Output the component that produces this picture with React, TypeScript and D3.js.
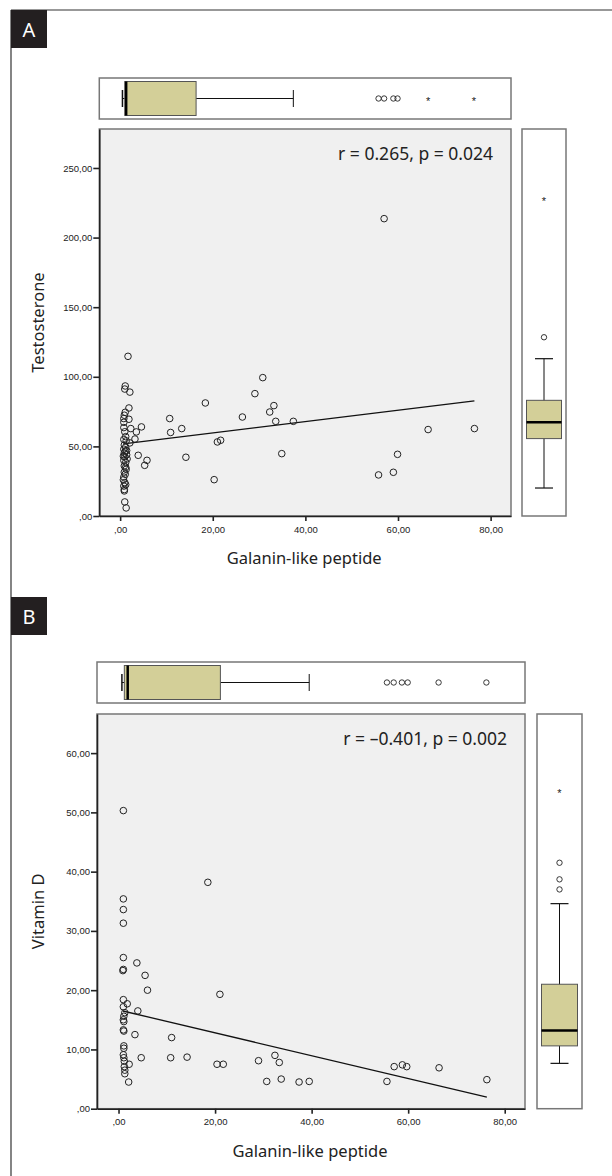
import React, { useEffect, useRef } from "react";
import * as d3 from "d3";

const xTicks = [0, 20, 40, 60, 80];
const testoTicks = [0, 50, 100, 150, 200, 250];
const vitdTicks = [0, 10, 20, 30, 40, 50, 60];

// Galanin-like peptide vs Testosterone
const pointsA = [
  [1.7, 114.7], [1.1, 93.4], [1.0, 91.2], [2.1, 89.0],
  [1.9, 77.6], [1.1, 74.5], [0.9, 72.4], [1.9, 69.5], [0.8, 70.0], [0.8, 67.3],
  [2.3, 62.8], [0.8, 63.5], [3.5, 60.4], [4.6, 64.0], [3.2, 55.3],
  [0.8, 55.0], [1.3, 54.0], [2.1, 52.5], [0.9, 51.0], [1.2, 49.5], [0.8, 48.0],
  [1.1, 46.5], [0.9, 45.2], [1.4, 44.0], [1.0, 42.5], [1.5, 41.0], [0.8, 40.0],
  [1.2, 38.5], [0.9, 36.0], [1.3, 33.5], [0.9, 31.5], [1.1, 30.0], [0.8, 28.0],
  [1.0, 24.0], [0.8, 21.5], [0.9, 19.0], [1.0, 10.1], [1.3, 5.8],
  [1.2, 57.0], [1.0, 60.5], [1.4, 47.0], [0.7, 43.0], [1.2, 35.0], [0.7, 26.0],
  [1.2, 22.5], [0.9, 18.0],
  [3.9, 43.6], [5.3, 36.4], [5.8, 40.0],
  [10.7, 70.0], [10.9, 60.0], [13.3, 62.8], [14.2, 42.2], [18.4, 81.2],
  [20.3, 26.1], [21.0, 53.2], [21.7, 54.4], [26.4, 71.1], [29.1, 87.9],
  [30.8, 99.4], [32.3, 74.7], [33.2, 79.3], [33.6, 68.0], [34.9, 44.8],
  [37.4, 68.0], [55.8, 29.5], [57.0, 213.6], [59.0, 31.4], [59.9, 44.3],
  [66.5, 62.1], [76.5, 62.8],
];

// Galanin-like peptide vs Vitamin D
const pointsB = [
  [1.0, 50.3], [1.0, 35.4], [1.0, 33.6], [1.0, 31.3], [1.0, 25.5],
  [1.0, 23.5], [0.9, 23.3], [1.0, 18.4], [1.0, 17.2], [1.3, 16.2],
  [1.1, 15.6], [1.0, 15.0], [1.1, 14.7], [1.0, 13.3], [1.1, 13.1],
  [1.1, 10.6], [1.1, 10.2], [1.0, 9.1], [1.1, 8.6], [1.2, 8.0],
  [1.2, 7.1], [1.3, 6.5], [1.3, 5.9],
  [1.8, 17.7], [4.0, 16.5], [3.8, 24.6], [5.5, 22.5], [6.0, 20.0],
  [3.4, 12.5], [4.7, 8.6], [2.2, 7.5], [2.1, 4.5],
  [18.5, 38.2], [21.0, 19.3], [11.0, 12.0], [10.8, 8.6], [14.2, 8.7],
  [20.4, 7.5], [21.7, 7.5], [29.0, 8.1], [32.4, 9.0], [33.3, 7.8],
  [30.7, 4.6], [33.7, 5.0], [37.4, 4.5], [39.5, 4.6], [55.6, 4.6],
  [57.1, 7.1], [58.8, 7.4], [59.7, 7.1], [66.4, 6.9], [76.3, 4.9],
];

const fitA = { intercept: 51.5, slope: 0.407 };
const fitB = { intercept: 16.66, slope: -0.193 };

// box stats: [min, q1, median, q3, max]
const galBoxA = [0.5, 1.0, 1.3, 16.4, 37.4];
const galOutA = [55.8, 57.0, 59.0, 59.9];
const galExtA = [66.5, 76.4];
const testoBox = [20.1, 55.6, 67.3, 83.1, 113];
const testoOut = [128.4];
const testoExt = [227.5];

const galBoxB = [0.7, 1.2, 1.9, 21.1, 39.5];
const galOutB = [55.6, 57.0, 58.7, 59.9, 66.3, 76.2];
const galExtB: number[] = [];
const vitdBox = [7.65, 10.6, 13.2, 21.0, 34.6];
const vitdOut = [37.0, 38.7, 41.5];
const vitdExt = [53.6];

const panels = [
  {
    letter: "A", letterTop: 10,
    topBox: 78, plotTop: 129, plotBottom: 516, left: 99.3, right: 511,
    sideLeft: 522, sideRight: 566,
    xDomain: [-4.5, 84.4], yDomain: [0, 278], yTicks: testoTicks,
    points: pointsA, fit: fitA, yLabel: "Testosterone",
    stat: "r = 0.265, p = 0.024",
    galBox: galBoxA, galOut: galOutA, galExt: galExtA,
    yBox: testoBox, yOut: testoOut, yExt: testoExt,
  },
  {
    letter: "B", letterTop: 597,
    topBox: 662, plotTop: 714, plotBottom: 1108.7, left: 97, right: 525,
    sideLeft: 537, sideRight: 582,
    xDomain: [-4.46, 84.2], yDomain: [0, 66.6], yTicks: vitdTicks,
    points: pointsB, fit: fitB, yLabel: "Vitamin D",
    stat: "r = \u20130.401, p = 0.002",
    galBox: galBoxB, galOut: galOutB, galExt: galExtB,
    yBox: vitdBox, yOut: vitdOut, yExt: vitdExt,
  },
];

const fmt = (v: number) => d3.format(".2f")(v).replace(".", ",").replace(/^0,/, ",");
const BOX_FILL = "#d3cf98";

const App = () => {
  const ref = useRef<SVGSVGElement>(null);

  useEffect(() => {
    const svg = d3.select(ref.current);
    svg.selectAll("*").remove();

    // outer frame
    svg.append("line").attr("x1", 11).attr("x2", 11).attr("y1", 10).attr("y2", 1176)
      .attr("stroke", "#333").attr("stroke-width", 1.2);
    svg.append("line").attr("x1", 11).attr("x2", 612).attr("y1", 10).attr("y2", 10)
      .attr("stroke", "#333").attr("stroke-width", 1.2);

    panels.forEach((p) => {
      const g = svg.append("g");

      g.append("rect").attr("x", 11).attr("y", p.letterTop).attr("width", 36).attr("height", 38)
        .attr("fill", "#231f20");
      g.append("text").attr("x", 29).attr("y", p.letterTop + 27).attr("text-anchor", "middle")
        .attr("fill", "#fff").attr("font-family", "Noto Sans").attr("font-size", 20).text(p.letter);

      const x = d3.scaleLinear().domain(p.xDomain).range([p.left, p.right]);
      const y = d3.scaleLinear().domain(p.yDomain).range([p.plotBottom, p.plotTop]);

      // scatter area
      g.append("rect").attr("x", p.left).attr("y", p.plotTop)
        .attr("width", p.right - p.left).attr("height", p.plotBottom - p.plotTop)
        .attr("fill", "#f0f0f0").attr("stroke", "#777").attr("stroke-width", 1.5);

      const yAxis = g.append("g").attr("transform", `translate(${p.left},0)`)
        .call(d3.axisLeft(y).tickValues(p.yTicks).tickFormat(fmt).tickSize(6).tickSizeOuter(0).tickPadding(1));
      const xAxis = g.append("g").attr("transform", `translate(0,${p.plotBottom})`)
        .call(d3.axisBottom(x).tickValues(xTicks).tickFormat(fmt).tickSize(5).tickSizeOuter(0).tickPadding(5));
      [yAxis, xAxis].forEach((ax) => {
        ax.select(".domain").attr("stroke", "#222").attr("stroke-width", 1.6);
        ax.selectAll(".tick line").attr("stroke", "#222").attr("stroke-width", 1.6);
        ax.selectAll(".tick text").attr("font-family", "Liberation Sans").attr("font-size", 9.5).attr("fill", "#222");
      });

      // fit line
      const xs = p.points.map((d) => d[0]);
      const xr = [d3.min(xs) as number, d3.max(xs) as number];
      g.append("path")
        .attr("d", d3.line()(xr.map((v) => [x(v), y(p.fit.intercept + p.fit.slope * v)])))
        .attr("stroke", "#111").attr("stroke-width", 1.3).attr("fill", "none");

      g.append("g").selectAll("circle").data(p.points).enter().append("circle")
        .attr("cx", (d) => x(d[0])).attr("cy", (d) => y(d[1])).attr("r", 3.3)
        .attr("fill", "none").attr("stroke", "#222").attr("stroke-width", 1);

      g.append("text").attr("x", p.right - 18).attr("y", p.plotTop + 31).attr("text-anchor", "end")
        .attr("font-family", "Noto Sans").attr("font-size", 17.5).attr("fill", "#222").text(p.stat);

      // axis titles
      g.append("text").attr("x", (p.left + p.right) / 2 - 1).attr("y", p.plotBottom + 48)
        .attr("text-anchor", "middle").attr("font-family", "Noto Sans").attr("font-size", 16.5)
        .attr("fill", "#222").text("Galanin-like peptide");
      g.append("text")
        .attr("transform", `translate(44,${(p.plotTop + p.plotBottom) / 2}) rotate(-90)`)
        .attr("text-anchor", "middle").attr("font-family", "Noto Sans").attr("font-size", 16.5)
        .attr("fill", "#222").text(p.yLabel);

      // top boxplot (horizontal, galanin)
      const tb = g.append("g");
      const th = 41;
      const cy = p.topBox + th / 2;
      tb.append("rect").attr("x", p.left).attr("y", p.topBox).attr("width", p.right - p.left).attr("height", th)
        .attr("fill", "#fff").attr("stroke", "#777").attr("stroke-width", 1.5);
      const [gmin, gq1, gmed, gq3, gmax] = p.galBox;
      tb.append("line").attr("x1", x(gq3)).attr("x2", x(gmax)).attr("y1", cy).attr("y2", cy).attr("stroke", "#111");
      tb.append("line").attr("x1", x(gmax)).attr("x2", x(gmax)).attr("y1", cy - 8.5).attr("y2", cy + 8.5).attr("stroke", "#111");
      tb.append("line").attr("x1", x(gmin)).attr("x2", x(gq1)).attr("y1", cy).attr("y2", cy).attr("stroke", "#111");
      tb.append("line").attr("x1", x(gmin)).attr("x2", x(gmin)).attr("y1", cy - 8.5).attr("y2", cy + 8.5).attr("stroke", "#111").attr("stroke-width", 1.5);
      tb.append("rect").attr("x", x(gq1)).attr("y", p.topBox + 3.5).attr("width", x(gq3) - x(gq1)).attr("height", th - 7)
        .attr("fill", BOX_FILL).attr("stroke", "#555").attr("stroke-width", 1);
      tb.append("line").attr("x1", x(gmed)).attr("x2", x(gmed)).attr("y1", p.topBox + 3.5).attr("y2", p.topBox + th - 3.5)
        .attr("stroke", "#000").attr("stroke-width", 2.5);
      tb.selectAll(".out").data(p.galOut).enter().append("circle")
        .attr("cx", (d) => x(d)).attr("cy", cy).attr("r", 2.7).attr("fill", "none").attr("stroke", "#222").attr("stroke-width", 0.9);
      tb.selectAll(".ext").data(p.galExt).enter().append("text")
        .attr("x", (d) => x(d)).attr("y", cy + 6).attr("text-anchor", "middle")
        .attr("font-family", "Liberation Sans").attr("font-size", 11).attr("fill", "#222").text("*");

      // side boxplot (vertical, y variable)
      const sb = g.append("g");
      const cx = (p.sideLeft + p.sideRight) / 2;
      sb.append("rect").attr("x", p.sideLeft).attr("y", p.plotTop).attr("width", p.sideRight - p.sideLeft)
        .attr("height", p.plotBottom - p.plotTop).attr("fill", "#fff").attr("stroke", "#777").attr("stroke-width", 1.5);
      const [ymin, yq1, ymed, yq3, ymax] = p.yBox;
      sb.append("line").attr("x1", cx).attr("x2", cx).attr("y1", y(ymax)).attr("y2", y(ymin)).attr("stroke", "#111");
      [ymin, ymax].forEach((v) => {
        sb.append("line").attr("x1", cx - 9).attr("x2", cx + 9).attr("y1", y(v)).attr("y2", y(v)).attr("stroke", "#111").attr("stroke-width", 1.2);
      });
      sb.append("rect").attr("x", p.sideLeft + 4.5).attr("y", y(yq3)).attr("width", p.sideRight - p.sideLeft - 9)
        .attr("height", y(yq1) - y(yq3)).attr("fill", BOX_FILL).attr("stroke", "#555").attr("stroke-width", 1);
      sb.append("line").attr("x1", p.sideLeft + 4.5).attr("x2", p.sideRight - 4.5).attr("y1", y(ymed)).attr("y2", y(ymed))
        .attr("stroke", "#000").attr("stroke-width", 2.5);
      sb.selectAll(".out").data(p.yOut).enter().append("circle")
        .attr("cx", cx).attr("cy", (d) => y(d)).attr("r", 2.7).attr("fill", "none").attr("stroke", "#222").attr("stroke-width", 0.9);
      sb.selectAll(".ext").data(p.yExt).enter().append("text")
        .attr("x", cx).attr("y", (d) => y(d) + 6).attr("text-anchor", "middle")
        .attr("font-family", "Liberation Sans").attr("font-size", 11).attr("fill", "#222").text("*");
    });
  }, []);

  return (
    <svg ref={ref} width={612} height={1176}
      style={{ position: "absolute", left: 0, top: 0, background: "#fff" }} />
  );
};

export default App;
